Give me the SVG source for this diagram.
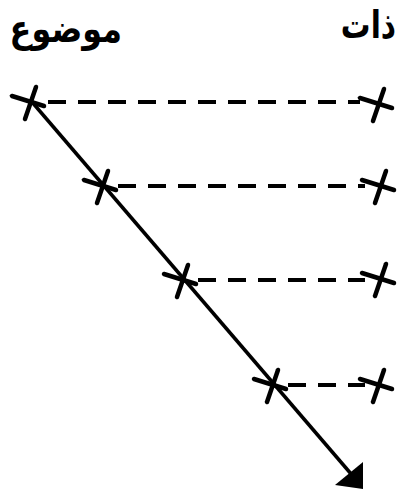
<svg xmlns="http://www.w3.org/2000/svg" xmlns:xlink="http://www.w3.org/1999/xlink" width="411" height="494" viewBox="0 0 411 494">
<style>
.lbl{font-family:"DejaVu Sans",sans-serif;font-weight:bold;fill:#000}
.x{stroke:#000;stroke-width:4.5;stroke-linecap:round;fill:none}
.dash{stroke:#000;stroke-width:4;stroke-dasharray:18 12;fill:none}
.main{stroke:#000;stroke-width:3.5;fill:none}
</style>
<defs>
<g id="cross">
<path class="x" d="M-18,-6 L14,4"/>
<path class="x" d="M6,-15 L-5,17"/>
</g>
</defs>
<rect width="411" height="494" fill="#fff"/>
<g id="connectors">
<path class="main" d="M32,102 L352,475"/>
<polygon points="363,489 335,485 363,462" fill="#000"/>
<path class="dash" d="M48,102 H360"/>
<path class="dash" d="M118,186 H365"/>
<path class="dash" d="M198,280 H365"/>
<path class="dash" d="M288,385 H365"/>
</g>
<g id="label-dhat"><text class="lbl" font-size="38" text-anchor="end" transform="translate(396,38) scale(0.78,1)">ذات</text></g>
<g id="label-mawdu"><text class="lbl" font-size="38" text-anchor="end" transform="translate(122,42) scale(0.84,1)">موضوع</text></g>
<g id="n1"><use xlink:href="#cross" x="30" y="102"/></g>
<g id="n2"><use xlink:href="#cross" x="102" y="186"/></g>
<g id="n3"><use xlink:href="#cross" x="182" y="280"/></g>
<g id="n4"><use xlink:href="#cross" x="272" y="385"/></g>
<g id="r1"><use xlink:href="#cross" x="378" y="104"/></g>
<g id="r2"><use xlink:href="#cross" x="380" y="186"/></g>
<g id="r3"><use xlink:href="#cross" x="380" y="279"/></g>
<g id="r4"><use xlink:href="#cross" x="378" y="385"/></g>
</svg>
